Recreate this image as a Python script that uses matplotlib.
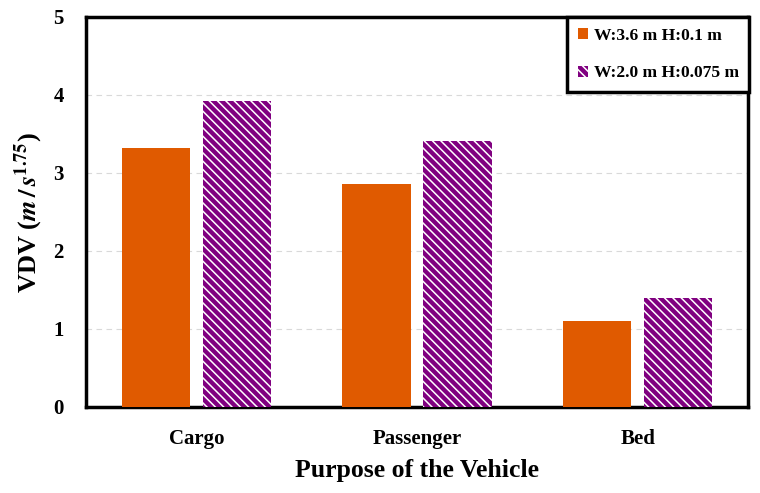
import numpy as np
import matplotlib.pyplot as plt

# VDV per vehicle purpose for two road bump geometries
categories = ['Cargo', 'Passenger', 'Bed']
vdv_wide = [3.32, 2.86, 1.10]    # W:3.6 m H:0.1 m
vdv_narrow = [3.92, 3.41, 1.40]  # W:2.0 m H:0.075 m
labels = ['W:3.6 m H:0.1 m', 'W:2.0 m H:0.075 m']

plt.rcParams['font.family'] = ['Liberation Serif', 'DejaVu Serif']
plt.rcParams['font.weight'] = 'bold'
plt.rcParams['mathtext.fontset'] = 'stix'
plt.rcParams['hatch.linewidth'] = 1.1

fig = plt.figure(figsize=(7.6, 4.93), dpi=100)
ax = fig.add_axes([86/760, 1-407/493, 662/760, 390/493])

x = np.arange(len(categories))
w = 0.31
ax.bar(x - 0.183, vdv_wide, w, color='#E05A00', label=labels[0], zorder=3)
ax.bar(x + 0.183, vdv_narrow, w, color='#800080', edgecolor='white',
       hatch='\\' * 4, linewidth=0, label=labels[1], zorder=3)

ax.set_xlim(-0.5, 2.5)
ax.set_ylim(0, 5)
ax.set_yticks(range(6))
ax.set_xticks(x)
ax.set_xticklabels(categories)
ax.tick_params(axis='x', length=0, labelsize=15, pad=16)
ax.tick_params(axis='y', length=0, labelsize=15, pad=16)
for t in ax.get_xticklabels() + ax.get_yticklabels():
    t.set_fontweight('bold')
ax.yaxis.grid(True, linestyle=(0, (5, 4)), color='#d9d9d9', linewidth=0.8, zorder=0)
for s in ax.spines.values():
    s.set_linewidth(2.5)

ax.set_xlabel('Purpose of the Vehicle', fontsize=18.5, fontweight='bold', labelpad=7)
ax.set_ylabel(r'VDV ($\mathbfit{m}\,/\,\mathbfit{s}^{\mathbf{1.75}}$)', fontsize=19,
              fontweight='bold', labelpad=6)

leg = ax.legend(loc='upper right', bbox_to_anchor=(1.002, 1.0), borderaxespad=0,
                fontsize=12.6, fancybox=False, edgecolor='black', framealpha=1,
                handlelength=0.6, handleheight=0.6, handletextpad=0.3,
                labelspacing=1.25, borderpad=0.6)
leg.get_frame().set_linewidth(2.5)
for t in leg.get_texts():
    t.set_fontweight('bold')

plt.savefig('out.png', dpi=100)
